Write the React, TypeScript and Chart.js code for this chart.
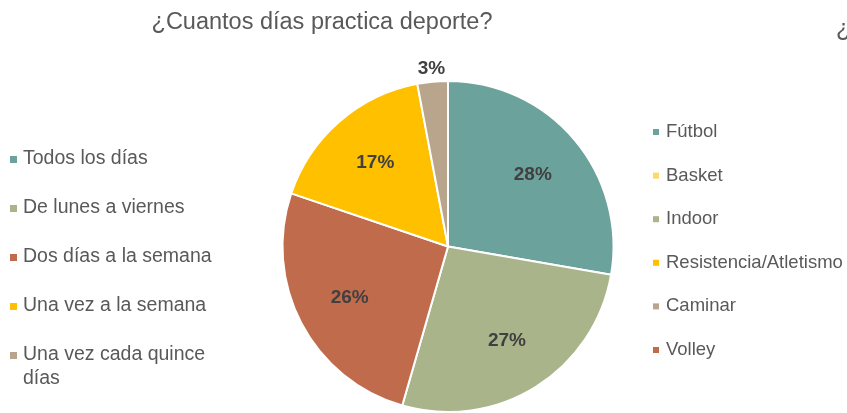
import React, { useEffect, useRef } from "react";
import { Chart, registerables } from "chart.js";

Chart.register(...registerables);

const title = "¿Cuantos días practica deporte?";
const categories = [
  "Todos los días",
  "De lunes a viernes",
  "Dos días a la semana",
  "Una vez a la semana",
  "Una vez cada quince días",
];
const values = [28, 27, 26, 17, 3];
const colors = ["#6BA29C", "#A9B48A", "#C06C4C", "#FFC000", "#B8A58C"];

const secondTitle = "¿";
const secondCategories = ["Fútbol", "Basket", "Indoor", "Resistencia/Atletismo", "Caminar", "Volley"];
const secondColors = ["#6BA29C", "#FFD866", "#A9B48A", "#FFC000", "#B8A58C", "#C06C4C"];

const FONT = "'Liberation Sans', Arial, sans-serif";
const TEXT = "#595959";

function wrap(ctx: CanvasRenderingContext2D, text: string, maxW: number): string[] {
  const words = text.split(" ");
  const lines: string[] = [];
  let cur = "";
  for (const w of words) {
    const t = cur ? cur + " " + w : w;
    if (ctx.measureText(t).width > maxW && cur) {
      lines.push(cur);
      cur = w;
    } else cur = t;
  }
  if (cur) lines.push(cur);
  return lines;
}

const decorPlugin = {
  id: "decor",
  afterDraw(chart: any) {
    const ctx: CanvasRenderingContext2D = chart.ctx;
    ctx.save();
    // titles
    ctx.fillStyle = TEXT;
    ctx.font = `23.5px ${FONT}`;
    ctx.textAlign = "center";
    ctx.textBaseline = "middle";
    ctx.fillText(title, 322, 23);
    ctx.textAlign = "left";
    ctx.fillText(secondTitle, 836, 30);

    // left legend
    ctx.font = `19.5px ${FONT}`;
    ctx.textBaseline = "middle";
    let y = 159;
    categories.forEach((c, i) => {
      ctx.fillStyle = colors[i];
      ctx.fillRect(10, y - 3, 7, 7);
      ctx.fillStyle = TEXT;
      const lines = wrap(ctx, c, 200);
      lines.forEach((l, j) => ctx.fillText(l, 23, y + j * 24));
      y += 49;
    });

    // right legend
    ctx.font = `18.5px ${FONT}`;
    let y2 = 132;
    secondCategories.forEach((c, i) => {
      ctx.fillStyle = secondColors[i];
      ctx.fillRect(653, y2 - 3, 6, 6);
      ctx.fillStyle = TEXT;
      ctx.fillText(c, 666, y2);
      y2 += 43.6;
    });

    // data labels
    const meta = chart.getDatasetMeta(0);
    const total = values.reduce((a, b) => a + b, 0);
    ctx.font = `bold 19px ${FONT}`;
    ctx.fillStyle = "#404040";
    ctx.textAlign = "center";
    meta.data.forEach((arc: any, i: number) => {
      const { x, y: cy, startAngle, endAngle, outerRadius } = arc.getProps(
        ["x", "y", "startAngle", "endAngle", "outerRadius"],
        true
      );
      const mid = (startAngle + endAngle) / 2;
      const pct = Math.round((values[i] / total) * 100);
      const d = pct < 5 ? outerRadius + 13 : outerRadius * 0.67;
      ctx.fillText(pct + "%", x + Math.cos(mid) * d, cy + Math.sin(mid) * d);
    });
    ctx.restore();
  },
};

export default function App() {
  const ref = useRef<HTMLCanvasElement>(null);
  useEffect(() => {
    const chart = new Chart(ref.current!, {
      type: "pie",
      data: {
        labels: categories,
        datasets: [
          {
            data: values,
            backgroundColor: colors,
            borderColor: "#ffffff",
            borderWidth: 2,
          },
        ],
      },
      options: {
        animation: false,
        responsive: false,
        maintainAspectRatio: false,
        layout: { padding: { left: 281, right: 232, top: 80, bottom: 0 } },
        plugins: { legend: { display: false }, tooltip: { enabled: false }, title: { display: false } },
      },
      plugins: [decorPlugin],
    });
    return () => chart.destroy();
  }, []);
  return (
    <div style={{ position: "fixed", left: 0, top: 0, width: 847, height: 413, background: "#fff" }}>
      <canvas ref={ref} width={847} height={413} style={{ display: "block" }} />
    </div>
  );
}
